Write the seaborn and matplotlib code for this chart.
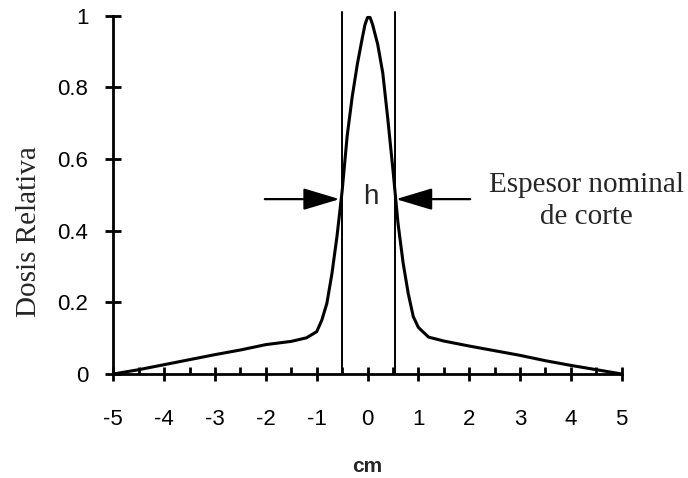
import numpy as np
import pandas as pd
import seaborn as sns
import matplotlib.pyplot as plt
from matplotlib.ticker import MultipleLocator, FixedLocator

# perfil de dosis
pos_cm = [-5, -4.5, -4, -3.5, -3, -2.5, -2, -1.5, -1.2, -1.0, -0.9, -0.8, -0.7,
          -0.6, -0.5, -0.4, -0.3, -0.2, -0.1, -0.05, 0, 0.05, 0.1, 0.2, 0.3,
          0.4, 0.5, 0.6, 0.7, 0.8, 0.9, 1.0, 1.2, 1.5, 2, 2.5, 3, 3.5, 4, 4.5, 5]
dosis = [0, 0.012, 0.026, 0.04, 0.054, 0.067, 0.082, 0.091, 0.101, 0.118, 0.15,
         0.197, 0.28, 0.385, 0.51, 0.665, 0.775, 0.865, 0.94, 0.975, 0.995,
         0.995, 0.975, 0.92, 0.84, 0.71, 0.57, 0.42, 0.31, 0.225, 0.16, 0.13,
         0.103, 0.092, 0.078, 0.065, 0.052, 0.037, 0.024, 0.012, 0]
limites_h = [-0.51, 0.55]
nivel_h = 0.488
x_ticks = [-5, -4, -3, -2, -1, 0, 1, 2, 3, 4, 5]
y_ticks = [0, 0.2, 0.4, 0.6, 0.8, 1]
y_labels = ['0', '0.2', '0.4', '0.6', '0.8', '1']

df = pd.DataFrame({'cm': pos_cm, 'dosis': dosis})

sns.set_style('ticks')
plt.rcParams['font.family'] = ['Liberation Sans', 'DejaVu Sans']
plt.rcParams['axes.unicode_minus'] = False

fig = plt.figure(figsize=(6.88, 4.78), dpi=100)
ax = fig.add_axes([0.1647, 0.2176, 0.739, 0.7496])

sns.lineplot(data=df, x='cm', y='dosis', color='black', linewidth=2.2, ax=ax,
             sort=False, clip_on=False)

for xv in limites_h:
    ax.plot([xv, xv], [0, 1.011], color='black', lw=1.4, clip_on=False)

# flechas de espesor
arrow = dict(arrowstyle='-|>,head_length=1.5,head_width=0.45', color='black',
             lw=1.6, mutation_scale=15, shrinkA=0, shrinkB=0)
ax.annotate('', xy=(-0.55, nivel_h), xytext=(-2.02, nivel_h), arrowprops=arrow)
ax.annotate('', xy=(0.56, nivel_h), xytext=(2.02, nivel_h), arrowprops=arrow)
ax.text(0.06, 0.494, 'h', ha='center', va='center', fontsize=20)

ax.text(4.3, 0.565, 'Espesor nominal\nde corte', ha='center', va='top',
        fontsize=21, family='Liberation Serif', linespacing=1.3,
        multialignment='center')

ax.set_xlim(-5, 5)
ax.set_ylim(0, 1)
ax.xaxis.set_major_locator(FixedLocator(x_ticks))
ax.xaxis.set_minor_locator(MultipleLocator(0.5))
ax.set_yticks(y_ticks)
ax.set_yticklabels(y_labels)

for s in ['top', 'right']:
    ax.spines[s].set_visible(False)
for s in ['left', 'bottom']:
    ax.spines[s].set_linewidth(2)
    ax.spines[s].set_color('black')

ax.tick_params(axis='x', which='major', bottom=True, direction='inout',
               length=10, width=2, pad=20, labelsize=16, colors='black')
ax.tick_params(axis='x', which='minor', bottom=True, direction='in', length=5,
               width=2, colors='black')
ax.tick_params(axis='y', which='major', left=True, direction='inout',
               length=12, width=2, pad=12, labelsize=16, colors='black')

ax.set_xlabel('cm', fontsize=15, fontweight='bold', labelpad=20)
ax.set_ylabel('')
fig.text(29 / 688, 1 - 231.5 / 478, 'Dosis Relativa', rotation=90,
         ha='center', va='center', fontsize=21, family='Liberation Serif')

fig.savefig('out.png', dpi=100, facecolor='white')
